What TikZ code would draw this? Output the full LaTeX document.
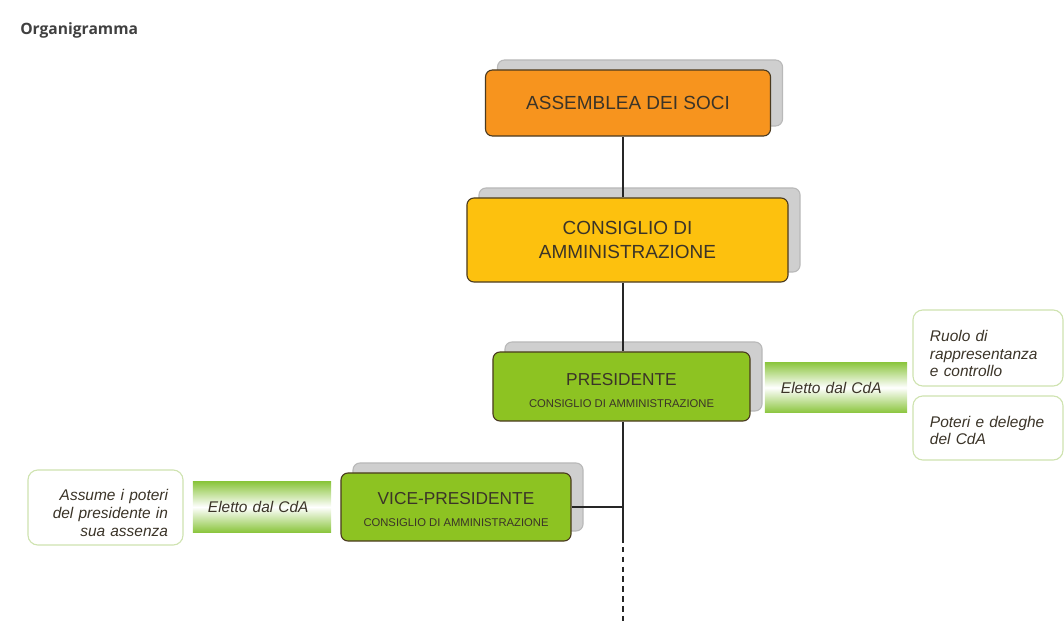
\documentclass[tikz,border=0pt]{standalone}
\usepackage{fontspec}
\setmainfont{Liberation Sans}
\newfontfamily\titlefont{Open Sans}
\usepackage{xcolor}
\usetikzlibrary{shadows}
\usetikzlibrary{calc}

\definecolor{assorange}{HTML}{F7941E}
\definecolor{cdayellow}{HTML}{FDC10E}
\definecolor{presgreen}{HTML}{8DC322}
\definecolor{bandgreen}{HTML}{8CC63F}
\definecolor{infoline}{HTML}{CFE3B0}
\definecolor{boxline}{HTML}{4A3A20}
\definecolor{inktext}{HTML}{3B3428}

\newcommand{\lift}[1]{\rule{0pt}{#1}}
\newcommand{\subunit}[1]{\\[0.5pt]{\fontsize{8}{9}\selectfont #1}}

\begin{document}
\begin{tikzpicture}[x=0.025cm,y=-0.025cm]%% organigramma
        \tikzstyle{unit} = [rectangle, rounded corners=5pt, draw=boxline, line width=0.8pt, text=inktext, align=center, inner sep=2pt,
                drop shadow={shadow xshift=0.3cm, shadow yshift=0.25cm, fill=gray!38, draw=gray!55, opacity=1}]
        \tikzstyle{band} = [rectangle, top color=bandgreen, bottom color=bandgreen, middle color=white, text=inktext,
                align=left, minimum height=1.25cm, font=\fontsize{11}{13}\selectfont\itshape]
        \tikzstyle{info} = [rectangle, rounded corners=7pt, draw=infoline, line width=0.8pt, fill=white, text=inktext,
                minimum width=3.75cm, text width=2.9cm, font=\fontsize{11}{12.6}\selectfont\itshape]
        \tikzstyle{link} = [line width=0.8pt, draw=black!85]

        \useasboundingbox (0,0) rectangle (1064,623);
        \node [anchor=base west, inner sep=0pt, text=black!75, font=\titlefont\bfseries\fontsize{11.1}{14}\selectfont](title) at (20,35) {Organigramma};

        % boxes
        \node [unit, fill=assorange, minimum width=7.125cm, minimum height=1.65cm, font=\fontsize{13.5}{16}\selectfont](ass) at (628,103) {ASSEMBLEA DEI SOCI};
        \node [unit, fill=cdayellow, minimum width=8.025cm, minimum height=2.1cm, font=\fontsize{13.5}{17.5}\selectfont](cda) at (627.5,240) {CONSIGLIO DI\\AMMINISTRAZIONE};
        \node [unit, fill=presgreen, minimum width=6.425cm, minimum height=1.725cm, font=\fontsize{12.3}{15}\selectfont](pres) at (621.5,386.5) {\lift{14.5pt}PRESIDENTE\subunit{CONSIGLIO DI AMMINISTRAZIONE}};
        \node [unit, fill=presgreen, minimum width=5.75cm, minimum height=1.7cm, font=\fontsize{12.3}{15}\selectfont](vp) at (456,507) {\lift{12.5pt}VICE-PRESIDENTE\subunit{CONSIGLIO DI AMMINISTRAZIONE}};

        % elezione
        \node [band, minimum width=3.55cm, inner xsep=0.4cm, text width=2.75cm](bandp) at (836,387.5) {Eletto dal CdA};
        \node [band, minimum width=3.45cm, inner xsep=0.375cm, text width=2.7cm](bandv) at (262,507) {Eletto dal CdA};

        % compiti
        \node [info, minimum height=1.9cm, align=left](ruolo) at (988,348) {\lift{16pt}Ruolo di\\rappresentanza\\e controllo};
        \node [info, minimum height=1.6cm, align=left](poteri) at (988,428) {\lift{11.5pt}Poteri e deleghe\\del CdA};
        \node [info, minimum width=3.875cm, text width=3.125cm, minimum height=1.875cm, align=right](assenza) at (105.5,507.5) {\lift{16pt}Assume i poteri\\del presidente in\\sua assenza};

        % linee
        \coordinate (trunk) at (623,537);
        \coordinate (trunkend) at (623,623);
        \draw [link] (ass.south -| trunk)--(cda.north -| trunk);
        \draw [link] (cda.south -| trunk)--(pres.north -| trunk);
        \draw [link] (pres.south -| trunk)--(trunk);
        \draw [link, dash pattern=on 4pt off 3pt] (trunk)--(trunkend);
        \draw [link] (vp.east)--(vp.east -| trunk);
\end{tikzpicture}
\end{document}
